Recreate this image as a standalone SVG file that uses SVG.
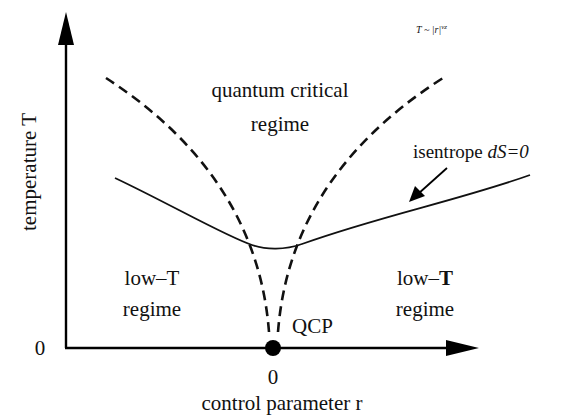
<svg xmlns="http://www.w3.org/2000/svg" width="564" height="420" viewBox="0 0 564 420">
<style>
text{font-family:"Liberation Serif","DejaVu Serif",serif;fill:#111}
.lbl{font-size:21px}
.axis{stroke:#000;stroke-width:2.4;fill:none}
.dash{stroke:#111;stroke-width:2.6;fill:none;stroke-dasharray:10 6}
.isen{stroke:#111;stroke-width:1.8;fill:none}
</style>
<g id="axes">
<line class="axis" x1="66" y1="348" x2="66" y2="40"/>
<polygon points="58,45 66,12 74,45" fill="#000"/>
<line class="axis" x1="65" y1="348" x2="450" y2="348"/>
<polygon points="446,340 479,348 446,356" fill="#000"/>
<text class="lbl" x="40" y="355" text-anchor="middle">0</text>
<text class="lbl" x="273" y="384" text-anchor="middle">0</text>
<text class="lbl" x="282" y="410" text-anchor="middle">control parameter r</text>
<text class="lbl" font-size="22" transform="translate(36,172) rotate(-90)" text-anchor="middle">temperature T</text>
</g>
<g id="connectors">
<path class="dash" d="M 278 332 C 285 240, 330 150, 443 78"/>
<path class="dash" d="M 269 332 C 262 240, 217 150, 106 78"/>
<path class="isen" d="M 115 178 C 170 204, 225 236, 252 245 C 266 250, 285 250, 302 244 C 380 216, 460 200, 530 175"/>
<line x1="447" y1="168" x2="418" y2="194" stroke="#000" stroke-width="1.8"/>
<polygon points="409,202 415,186 425,196" fill="#000"/>
</g>
<g id="qcp">
<circle cx="273" cy="348" r="8" fill="#000"/>
<text class="lbl" x="292" y="333" font-size="19">QCP</text>
</g>
<g id="quantum-critical">
<text class="lbl" x="280" y="97" text-anchor="middle">quantum critical</text>
<text class="lbl" x="280" y="131" text-anchor="middle">regime</text>
</g>
<g id="low-T-left">
<text class="lbl" x="152" y="285" text-anchor="middle">low–T</text>
<text class="lbl" x="152" y="316" text-anchor="middle">regime</text>
</g>
<g id="low-T-right">
<text class="lbl" x="425" y="285" text-anchor="middle">low–<tspan font-weight="bold">T</tspan></text>
<text class="lbl" x="425" y="316" text-anchor="middle">regime</text>
</g>
<g id="isentrope-label">
<text x="413" y="158" font-size="19">isentrope <tspan font-style="italic">dS=0</tspan></text>
</g>
<g id="scaling-label">
<text x="416" y="33" font-size="10" font-style="italic">T ~ |r|<tspan font-size="7" dy="-4">νz</tspan></text>
</g>
</svg>
